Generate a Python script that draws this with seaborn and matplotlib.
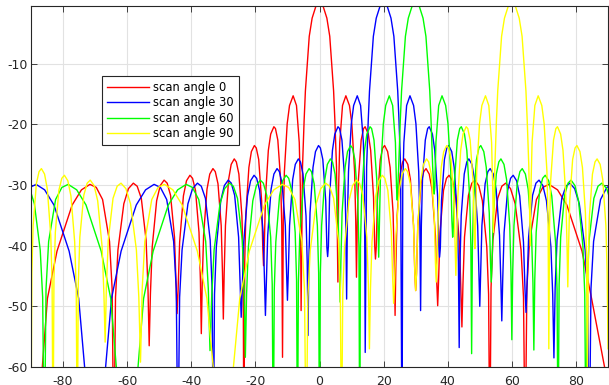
import matplotlib
matplotlib.use("Agg")
import matplotlib.pyplot as plt
import seaborn as sns
import pandas as pd

# ---------------- data ----------------
series_names = ["scan angle 0", "scan angle 30", "scan angle 60", "scan angle 90"]
series_colors = ["#ff0000", "#0000ff", "#00ff00", "#ffff00"]

red_x = [-90.0,
    -84.874, -81.890, -77.162, -74.260, -71.604, -69.636, -67.668, -65.505, -64.689, -64.158,
    -63.638, -62.876, -61.045, -59.599, -58.082, -56.878, -55.589, -54.096, -53.514, -53.130,
    -52.750, -52.185, -50.804, -49.685, -48.478, -47.519, -46.468, -45.235, -44.749, -44.427,
    -44.107, -43.630, -42.454, -41.491, -40.421, -39.606, -38.682, -37.590, -37.157, -36.870,
    -36.584, -36.157, -35.100, -34.229, -33.244, -32.514, -31.668, -30.664, -30.265, -30.000,
    -29.736, -29.341, -28.360, -27.549, -26.597, -25.945, -25.151, -24.205, -23.828, -23.578,
    -23.328, -22.955, -22.024, -21.254, -20.310, -19.724, -18.966, -18.059, -17.698, -17.458,
    -17.218, -16.858, -15.962, -15.219, -14.235, -13.740, -13.003, -12.122, -11.771, -11.537,
    -11.303, -10.953, -10.079, -9.352, -8.222, -7.181, -6.315, -5.969, -5.739,
    -5.3, -4.8, -4.4, -3.8, -3.2, -2.3, -1.1, 0.0, 1.1, 2.3, 3.2, 3.8, 4.4, 4.8, 5.3, 5.739,
    5.969, 6.315, 7.181, 8.222, 9.352, 10.079, 10.953, 11.303, 11.537,
    11.771, 12.122, 13.003, 13.740, 14.235, 15.219, 15.962, 16.858, 17.218, 17.458,
    17.698, 18.059, 18.966, 19.724, 20.310, 21.254, 22.024, 22.955, 23.328, 23.578,
    23.828, 24.205, 25.151, 25.945, 26.597, 27.549, 28.360, 29.341, 29.736, 30.000,
    30.265, 30.664, 31.668, 32.514, 33.244, 34.229, 35.100, 36.157, 36.584, 36.870,
    37.157, 37.590, 38.682, 39.606, 40.421, 41.491, 42.454, 43.630, 44.107, 44.427,
    44.749, 45.235, 46.468, 47.519, 48.478, 49.685, 50.804, 52.185, 52.750, 53.130,
    53.514, 54.096, 55.589, 56.878, 58.082, 59.599, 61.045, 62.876, 63.638, 64.158,
    64.689, 65.505, 67.668, 69.636, 71.604, 74.260, 77.162, 81.890, 84.874, 90.0]
red_y = [-85,
    -48.7, -40.9, -33.3, -30.8, -29.9, -30.4, -32.4, -39.3, -47.1, -75,
    -48.5, -40.7, -33.1, -30.6, -29.7, -30.2, -32.2, -39.1, -46.9, -56.5,
    -48.0, -40.2, -32.6, -30.1, -29.2, -29.7, -31.7, -38.6, -46.4, -51.2,
    -47.2, -39.4, -31.8, -29.3, -28.4, -28.9, -30.9, -37.8, -45.6, -54.5,
    -46.1, -38.3, -30.7, -28.2, -27.3, -27.8, -29.8, -36.7, -44.5, -52.1,
    -44.5, -36.7, -29.1, -26.6, -25.7, -26.2, -28.2, -35.1, -42.9, -75,
    -42.6, -34.6, -27.1, -24.5, -23.5, -23.9, -25.8, -32.6, -40.3, -43.3,
    -40.0, -32.0, -24.3, -21.6, -20.4, -20.7, -22.6, -29.2, -36.7, -58.4,
    -35.9, -27.8, -19.9, -16.9, -15.3, -16.9, -23.0, -30.4, -50.7,
    -27, -19.4, -14.5, -10, -5.5, -2.5, -0.5, 0, -0.5, -2.5, -5.5, -10, -14.5, -19.4, -27, -46.0,
    -30.4, -23.0, -16.9, -15.3, -16.9, -19.9, -27.8, -35.9, -45.2,
    -36.7, -29.2, -22.6, -20.7, -20.4, -21.6, -24.3, -32.0, -40.0, -42.2,
    -40.3, -32.6, -25.8, -23.9, -23.5, -24.5, -27.1, -34.6, -42.6, -51.5,
    -42.9, -35.1, -28.2, -26.2, -25.7, -26.6, -29.1, -36.7, -44.5, -47.4,
    -44.5, -36.7, -29.8, -27.8, -27.3, -28.2, -30.7, -38.3, -46.1, -49.9,
    -45.6, -37.8, -30.9, -28.9, -28.4, -29.3, -31.8, -39.4, -47.2, -53.4,
    -46.4, -38.6, -31.7, -29.7, -29.2, -30.1, -32.6, -40.2, -48.0, -75,
    -46.9, -39.1, -32.2, -30.2, -29.7, -30.6, -33.1, -40.7, -48.5, -75,
    -47.1, -39.3, -32.4, -30.4, -29.9, -30.8, -33.3, -40.9, -48.7, -63]

blue_x = [
    -92.332, -90.364, -88.396, -85.740, -82.838, -78.110, -75.126, -70.0,
    -64.874, -61.890, -57.162, -54.260, -51.604, -49.636, -47.668, -45.505, -44.689, -44.158,
    -43.638, -42.876, -41.045, -39.599, -38.082, -36.878, -35.589, -34.096, -33.514, -33.130,
    -32.750, -32.185, -30.804, -29.685, -28.478, -27.519, -26.468, -25.235, -24.749, -24.427,
    -24.107, -23.630, -22.454, -21.491, -20.421, -19.606, -18.682, -17.590, -17.157, -16.870,
    -16.584, -16.157, -15.100, -14.229, -13.244, -12.514, -11.668, -10.664, -10.265, -10.000,
    -9.736, -9.341, -8.360, -7.549, -6.597, -5.945, -5.151, -4.205, -3.828, -3.578,
    -3.328, -2.955, -2.024, -1.254, -0.310, 0.276, 1.034, 1.941, 2.302, 2.542,
    2.782, 3.142, 4.038, 4.781, 5.765, 6.260, 6.997, 7.878, 8.229, 8.463,
    8.697, 9.047, 9.921, 10.648, 11.778, 12.819, 13.685, 14.031, 14.261,
    14.7, 15.2, 15.6, 16.2, 16.8, 17.7, 18.9, 20.0, 21.1, 22.3, 23.2, 23.8, 24.4, 24.8, 25.3, 25.739,
    25.969, 26.315, 27.181, 28.222, 29.352, 30.079, 30.953, 31.303, 31.537,
    31.771, 32.122, 33.003, 33.740, 34.235, 35.219, 35.962, 36.858, 37.218, 37.458,
    37.698, 38.059, 38.966, 39.724, 40.310, 41.254, 42.024, 42.955, 43.328, 43.578,
    43.828, 44.205, 45.151, 45.945, 46.597, 47.549, 48.360, 49.341, 49.736, 50.000,
    50.265, 50.664, 51.668, 52.514, 53.244, 54.229, 55.100, 56.157, 56.584, 56.870,
    57.157, 57.590, 58.682, 59.606, 60.421, 61.491, 62.454, 63.630, 64.107, 64.427,
    64.749, 65.235, 66.468, 67.519, 68.478, 69.685, 70.804, 72.185, 72.750, 73.130,
    73.514, 74.096, 75.589, 76.878, 78.082, 79.599, 81.045, 82.876, 83.638, 84.158,
    84.689, 85.505, 87.668, 89.636, 91.604]
blue_y = [
    -32.4, -30.4, -29.9, -30.8, -33.3, -40.9, -48.7, -80,
    -48.7, -40.9, -33.3, -30.8, -29.9, -30.4, -32.4, -39.3, -47.1, -75,
    -48.5, -40.7, -33.1, -30.6, -29.7, -30.2, -32.2, -39.1, -46.9, -75,
    -48.0, -40.2, -32.6, -30.1, -29.2, -29.7, -31.7, -38.6, -46.4, -51.8,
    -47.2, -39.4, -31.8, -29.3, -28.4, -28.9, -30.9, -37.8, -45.6, -51.5,
    -46.1, -38.3, -30.7, -28.2, -27.3, -27.8, -29.8, -36.7, -44.5, -49.0,
    -44.5, -36.7, -29.1, -26.6, -25.7, -26.2, -28.2, -35.1, -42.9, -54.8,
    -42.6, -34.6, -27.1, -24.5, -23.5, -23.9, -25.8, -32.6, -40.3, -41.8,
    -40.0, -32.0, -24.3, -21.6, -20.4, -20.7, -22.6, -29.2, -36.7, -48.8,
    -35.9, -27.8, -19.9, -16.9, -15.3, -16.9, -23.0, -30.4, -57.6,
    -27, -19.4, -14.5, -10, -5.5, -2.5, -0.5, 0, -0.5, -2.5, -5.5, -10, -14.5, -19.4, -27, -75,
    -30.4, -23.0, -16.9, -15.3, -16.9, -19.9, -27.8, -35.9, -50.7,
    -36.7, -29.2, -22.6, -20.7, -20.4, -21.6, -24.3, -32.0, -40.0, -41.9,
    -40.3, -32.6, -25.8, -23.9, -23.5, -24.5, -27.1, -34.6, -42.6, -56.8,
    -42.9, -35.1, -28.2, -26.2, -25.7, -26.6, -29.1, -36.7, -44.5, -50.0,
    -44.5, -36.7, -29.8, -27.8, -27.3, -28.2, -30.7, -38.3, -46.1, -52.4,
    -45.6, -37.8, -30.9, -28.9, -28.4, -29.3, -31.8, -39.4, -47.2, -51.0,
    -46.4, -38.6, -31.7, -29.7, -29.2, -30.1, -32.6, -40.2, -48.0, -58.5,
    -46.9, -39.1, -32.2, -30.2, -29.7, -30.6, -33.1, -40.7, -48.5, -75,
    -47.1, -39.3, -32.4, -30.4, -29.9]

green_x = [
    -91.918, -90.401, -88.955, -87.124, -86.362, -85.842,
    -85.311, -84.495, -82.332, -80.364, -78.396, -75.740, -72.838, -68.110, -65.126, -60.0,
    -54.874, -51.890, -47.162, -44.260, -41.604, -39.636, -37.668, -35.505, -34.689, -34.158,
    -33.638, -32.876, -31.045, -29.599, -28.082, -26.878, -25.589, -24.096, -23.514, -23.130,
    -22.750, -22.185, -20.804, -19.685, -18.478, -17.519, -16.468, -15.235, -14.749, -14.427,
    -14.107, -13.630, -12.454, -11.491, -10.421, -9.606, -8.682, -7.590, -7.157, -6.870,
    -6.584, -6.157, -5.100, -4.229, -3.244, -2.514, -1.668, -0.664, -0.265, 0.000,
    0.264, 0.659, 1.640, 2.451, 3.403, 4.055, 4.849, 5.795, 6.172, 6.422,
    6.672, 7.045, 7.976, 8.746, 9.690, 10.276, 11.034, 11.941, 12.302, 12.542,
    12.782, 13.142, 14.038, 14.781, 15.765, 16.260, 16.997, 17.878, 18.229, 18.463,
    18.697, 19.047, 19.921, 20.648, 21.778, 22.819, 23.685, 24.031, 24.261,
    24.7, 25.2, 25.6, 26.2, 26.8, 27.7, 28.9, 30.0, 31.1, 32.3, 33.2, 33.8, 34.4, 34.8, 35.3, 35.739,
    35.969, 36.315, 37.181, 38.222, 39.352, 40.079, 40.953, 41.303, 41.537,
    41.771, 42.122, 43.003, 43.740, 44.235, 45.219, 45.962, 46.858, 47.218, 47.458,
    47.698, 48.059, 48.966, 49.724, 50.310, 51.254, 52.024, 52.955, 53.328, 53.578,
    53.828, 54.205, 55.151, 55.945, 56.597, 57.549, 58.360, 59.341, 59.736, 60.000,
    60.265, 60.664, 61.668, 62.514, 63.244, 64.229, 65.100, 66.157, 66.584, 66.870,
    67.157, 67.590, 68.682, 69.606, 70.421, 71.491, 72.454, 73.630, 74.107, 74.427,
    74.749, 75.235, 76.468, 77.519, 78.478, 79.685, 80.804, 82.185, 82.750, 83.130,
    83.514, 84.096, 85.589, 86.878, 88.082, 89.599, 91.045]
green_y = [
    -29.7, -30.6, -33.1, -40.7, -48.5, -75,
    -47.1, -39.3, -32.4, -30.4, -29.9, -30.8, -33.3, -40.9, -48.7, -82,
    -48.7, -40.9, -33.3, -30.8, -29.9, -30.4, -32.4, -39.3, -47.1, -57.3,
    -48.5, -40.7, -33.1, -30.6, -29.7, -30.2, -32.2, -39.1, -46.9, -58.4,
    -48.0, -40.2, -32.6, -30.1, -29.2, -29.7, -31.7, -38.6, -46.4, -75,
    -47.2, -39.4, -31.8, -29.3, -28.4, -28.9, -30.9, -37.8, -45.6, -75,
    -46.1, -38.3, -30.7, -28.2, -27.3, -27.8, -29.8, -36.7, -44.5, -75,
    -44.5, -36.7, -29.1, -26.6, -25.7, -26.2, -28.2, -35.1, -42.9, -49.3,
    -42.6, -34.6, -27.1, -24.5, -23.5, -23.9, -25.8, -32.6, -40.3, -75,
    -40.0, -32.0, -24.3, -21.6, -20.4, -20.7, -22.6, -29.2, -36.7, -41.9,
    -35.9, -27.8, -19.9, -16.9, -15.3, -16.9, -23.0, -30.4, -32.5,
    -27, -19.4, -14.5, -10, -5.5, -2.5, -0.5, 0, -0.5, -2.5, -5.5, -10, -14.5, -19.4, -27, -31.5,
    -30.4, -23.0, -16.9, -15.3, -16.9, -19.9, -27.8, -35.9, -38.6,
    -36.7, -29.2, -22.6, -20.7, -20.4, -21.6, -24.3, -32.0, -40.0, -57.8,
    -40.3, -32.6, -25.8, -23.9, -23.5, -24.5, -27.1, -34.6, -42.6, -46.0,
    -42.9, -35.1, -28.2, -26.2, -25.7, -26.6, -29.1, -36.7, -44.5, -55.5,
    -44.5, -36.7, -29.8, -27.8, -27.3, -28.2, -30.7, -38.3, -46.1, -57.2,
    -45.6, -37.8, -30.9, -28.9, -28.4, -29.3, -31.8, -39.4, -47.2, -75,
    -46.4, -38.6, -31.7, -29.7, -29.2, -30.1, -32.6, -40.2, -48.0, -75,
    -46.9, -39.1, -32.2, -30.2, -29.7, -30.6, -33.1]

yellow_x = [-90.0,
    -89.735, -89.336, -88.332, -87.486, -86.756, -85.771, -84.900, -83.843, -83.416, -83.130,
    -82.843, -82.410, -81.318, -80.394, -79.579, -78.509, -77.546, -76.370, -75.893, -75.573,
    -75.251, -74.765, -73.532, -72.481, -71.522, -70.315, -69.196, -67.815, -67.250, -66.870,
    -66.486, -65.904, -64.411, -63.122, -61.918, -60.401, -58.955, -57.124, -56.362, -55.842,
    -55.311, -54.495, -52.332, -50.364, -48.396, -45.740, -42.838, -38.110, -35.126, -30.000,
    -24.874, -21.890, -17.162, -14.260, -11.604, -9.636, -7.668, -5.505, -4.689, -4.158,
    -3.638, -2.876, -1.045, 0.401, 1.918, 3.122, 4.411, 5.904, 6.486, 6.870,
    7.250, 7.815, 9.196, 10.315, 11.522, 12.481, 13.532, 14.765, 15.251, 15.573,
    15.893, 16.370, 17.546, 18.509, 19.579, 20.394, 21.318, 22.410, 22.843, 23.130,
    23.416, 23.843, 24.900, 25.771, 26.756, 27.486, 28.332, 29.336, 29.735, 30.000,
    30.264, 30.659, 31.640, 32.451, 33.403, 34.055, 34.849, 35.795, 36.172, 36.422,
    36.672, 37.045, 37.976, 38.746, 39.690, 40.276, 41.034, 41.941, 42.302, 42.542,
    42.782, 43.142, 44.038, 44.781, 45.765, 46.260, 46.997, 47.878, 48.229, 48.463,
    48.697, 49.047, 49.921, 50.648, 51.778, 52.819, 53.685, 54.031, 54.261,
    54.7, 55.2, 55.6, 56.2, 56.8, 57.7, 58.9, 60.0, 61.1, 62.3, 63.2, 63.8, 64.4, 64.8, 65.3, 65.739,
    65.969, 66.315, 67.181, 68.222, 69.352, 70.079, 70.953, 71.303, 71.537,
    71.771, 72.122, 73.003, 73.740, 74.235, 75.219, 75.962, 76.858, 77.218, 77.458,
    77.698, 78.059, 78.966, 79.724, 80.310, 81.254, 82.024, 82.955, 83.328, 83.578,
    83.828, 84.205, 85.151, 85.945, 86.597, 87.549, 88.360, 89.341, 89.736, 90.0]
yellow_y = [-72,
    -44.5, -36.7, -29.8, -27.8, -27.3, -28.2, -30.7, -38.3, -46.1, -75,
    -45.6, -37.8, -30.9, -28.9, -28.4, -29.3, -31.8, -39.4, -47.2, -75,
    -46.4, -38.6, -31.7, -29.7, -29.2, -30.1, -32.6, -40.2, -48.0, -55.9,
    -46.9, -39.1, -32.2, -30.2, -29.7, -30.6, -33.1, -40.7, -48.5, -59.2,
    -47.1, -39.3, -32.4, -30.4, -29.9, -30.8, -33.3, -40.9, -48.7, -78,
    -48.7, -40.9, -33.3, -30.8, -29.9, -30.4, -32.4, -39.3, -47.1, -75,
    -48.5, -40.7, -33.1, -30.6, -29.7, -30.2, -32.2, -39.1, -46.9, -75,
    -48.0, -40.2, -32.6, -30.1, -29.2, -29.7, -31.7, -38.6, -46.4, -57.0,
    -47.2, -39.4, -31.8, -29.3, -28.4, -28.9, -30.9, -37.8, -45.6, -49.5,
    -46.1, -38.3, -30.7, -28.2, -27.3, -27.8, -29.8, -36.7, -44.5, -47.4,
    -44.5, -36.7, -29.1, -26.6, -25.7, -26.2, -28.2, -35.1, -42.9, -46.0,
    -42.6, -34.6, -27.1, -24.5, -23.5, -23.9, -25.8, -32.6, -40.3, -44.9,
    -40.0, -32.0, -24.3, -21.6, -20.4, -20.7, -22.6, -29.2, -36.7, -40.5,
    -35.9, -27.8, -19.9, -16.9, -15.3, -16.9, -23.0, -30.4, -37.8,
    -27, -19.4, -14.5, -10, -5.5, -2.5, -0.5, 0, -0.5, -2.5, -5.5, -10, -14.5, -19.4, -27, -40.0,
    -30.4, -23.0, -16.9, -15.3, -16.9, -19.9, -27.8, -35.9, -57.0,
    -36.7, -29.2, -22.6, -20.7, -20.4, -21.6, -24.3, -32.0, -40.0, -46.8,
    -40.3, -32.6, -25.8, -23.9, -23.5, -24.5, -27.1, -34.6, -42.6, -62,
    -42.9, -35.1, -28.2, -26.2, -25.7, -26.6, -29.1, -36.7, -44.5, -57]

x_ticks = [-80, -60, -40, -20, 0, 20, 40, 60, 80]
x_tick_labels = ["-80", "-60", "-40", "-20", "0", "20", "40", "60", "80"]
y_ticks = [-60, -50, -40, -30, -20, -10]
y_tick_labels = ["-60", "-50", "-40", "-30", "-20", "-10"]

# ---------------- long table for seaborn ----------------
frames = []
for name, xs, ys in zip(series_names,
                        [red_x, blue_x, green_x, yellow_x],
                        [red_y, blue_y, green_y, yellow_y]):
    frames.append(pd.DataFrame({"angle": xs, "gain": ys, "series": name}))
df = pd.concat(frames, ignore_index=True)

# ---------------- figure ----------------
plt.rcParams["font.family"] = ["DejaVu Sans"]
W, H = 609, 385
fig = plt.figure(figsize=(W / 100, H / 100), dpi=100)
ax = fig.add_axes([31 / W, 1 - 367 / H, (608 - 31) / W, (367 - 6) / H])

sns.lineplot(data=df, x="angle", y="gain", hue="series",
             hue_order=series_names, palette=series_colors,
             estimator=None, sort=False, linewidth=1.0, ax=ax)

ax.set_xlim(-90, 90)
ax.set_ylim(-60, -0.5)
ax.set_xticks(x_ticks)
ax.set_xticklabels(x_tick_labels)
ax.set_yticks(y_ticks)
ax.set_yticklabels(y_tick_labels)
ax.set_xlabel("")
ax.set_ylabel("")

ax.grid(True, color="#e2e2e2", linewidth=0.8)
ax.set_axisbelow(True)
for s in ax.spines.values():
    s.set_color("#262626")
    s.set_linewidth(0.8)
ax.tick_params(direction="in", top=True, right=True, length=4,
               width=0.6, color="#262626", labelcolor="#262626",
               labelsize=9)
ax.tick_params(axis="x", pad=6)
ax.tick_params(axis="y", pad=2.5)

handles, labels = ax.get_legend_handles_labels()
leg = ax.legend(handles, labels, loc="upper left",
                bbox_to_anchor=(102 / W, 1 - 76 / H),
                bbox_transform=fig.transFigure, borderaxespad=0,
                fontsize=8.3, handlelength=3.7, handletextpad=0.35,
                labelspacing=0.22, borderpad=0.4, fancybox=False,
                framealpha=1, edgecolor="#262626")
leg.get_frame().set_linewidth(0.8)
for lh in leg.get_lines():
    lh.set_linewidth(1.0)

fig.savefig("out.png", dpi=100)
